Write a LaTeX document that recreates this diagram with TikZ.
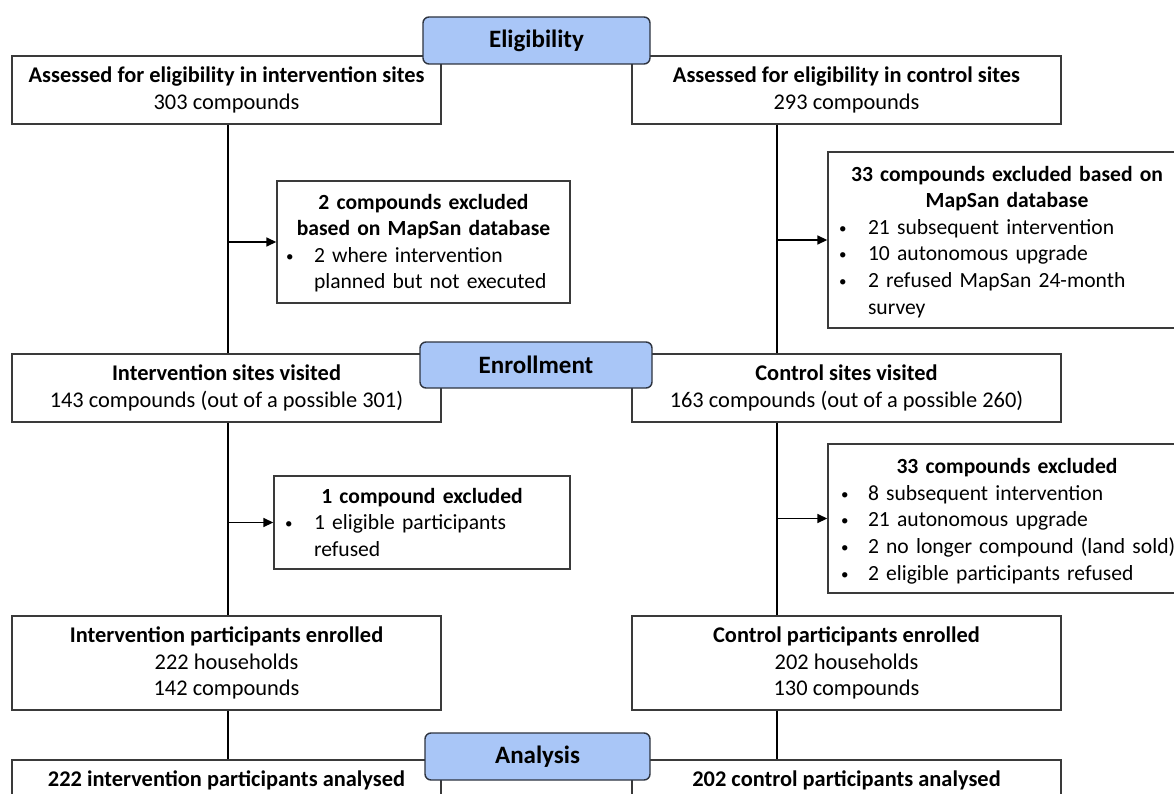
\documentclass[tikz,border=0pt]{standalone}
\usepackage{fontspec}
\setmainfont{Carlito}
\usetikzlibrary{arrows.meta}
\definecolor{phasefill}{HTML}{A9C6F7}
\definecolor{phasedraw}{HTML}{2E3440}
\definecolor{boxdraw}{HTML}{3A3A3A}
\newlength{\bi}\newlength{\bo}
\newcommand{\tline}[1]{\par\noindent\makebox[\hsize]{\bfseries #1}}
\newcommand{\bline}[1]{\par\noindent\makebox[\bi][l]{\hspace{\bo}\raisebox{1pt}{\fontsize{15}{15}\selectfont\textbullet}}\mbox{#1}}
\newcommand{\contline}[1]{\par\noindent\hspace*{\bi}\mbox{#1}}
\newcommand{\padend}[1]{\par\kern#1\hrule height0pt depth0pt width0pt}
\begin{document}
\begin{tikzpicture}[x=1pt,y=-1pt,
  every node/.style={font=\fontsize{21.6}{26.6}\selectfont},
  mainbox/.style={draw=boxdraw,line width=1.4pt,fill=white,inner sep=0pt,align=center,minimum width=429pt,font=\fontsize{22.4}{26.6}\selectfont},
  exbox/.style={draw=boxdraw,line width=1.4pt,fill=white,inner xsep=8pt,inner ysep=0pt},
  phase/.style={draw=phasedraw,line width=1.4pt,fill=phasefill,rounded corners=6pt,inner sep=0pt,font=\fontsize{25}{28}\selectfont\bfseries},
  conn/.style={line width=1.6pt,draw=black},
  arr/.style={conn,-{Triangle[length=10pt,width=9pt]}}]
\useasboundingbox (0,0) rectangle (1174,794);
\clip (0,0) rectangle (1174,794);
\fill[white] (0,0) rectangle (1174,794);
\coordinate (lx) at (228,0);
\coordinate (rx) at (777,0);
% main boxes
\node[mainbox,minimum height=68pt] (A1) at (226.5,90) {\textbf{Assessed for eligibility in intervention sites}\\303 compounds};
\node[mainbox,minimum height=68pt] (B1) at (846.5,90) {\textbf{Assessed for eligibility in control sites}\\293 compounds};
\node[mainbox,minimum height=68pt] (A2) at (226.5,388) {\textbf{Intervention sites visited}\\143 compounds (out of a possible 301)};
\node[mainbox,minimum height=68pt] (B2) at (846.5,388) {\textbf{Control sites visited}\\163 compounds (out of a possible 260)};
\node[mainbox,minimum height=94pt] (A3) at (226.5,663) {\textbf{Intervention participants enrolled}\\222 households\\142 compounds};
\node[mainbox,minimum height=94pt] (B3) at (846.5,663) {\textbf{Control participants enrolled}\\202 households\\130 compounds};
\node[mainbox,minimum height=40pt] (A4) at (226.5,780) {\textbf{222 intervention participants analysed}};
\node[mainbox,minimum height=40pt] (B4) at (846.5,780) {\textbf{202 control participants analysed}};
% exclusion boxes
\node[exbox,text width=277pt,minimum height=122pt] (E1L) at (423.5,242) {%
  \setlength{\bi}{29pt}\setlength{\bo}{1pt}%
  \tline{2 compounds excluded}%
  \tline{based on MapSan database}%
  \bline{2 where intervention}%
  \contline{planned but not executed}\padend{9pt}};
\node[exbox,text width=342pt,minimum height=176pt] (E1R) at (1007,240) {%
  \setlength{\bi}{32pt}\setlength{\bo}{3pt}%
  \tline{33 compounds excluded based on}%
  \tline{MapSan database}%
  \bline{21 subsequent intervention}%
  \bline{10 autonomous upgrade}%
  \bline{2 refused MapSan 24-month}%
  \contline{survey}\padend{8pt}};
\node[exbox,text width=280pt,minimum height=93pt] (E2L) at (422,522.5) {%
  \setlength{\bi}{32pt}\setlength{\bo}{3pt}%
  \tline{1 compound excluded}%
  \bline{1 eligible participants}%
  \contline{refused}\padend{12pt}};
\node[exbox,text width=342pt,minimum height=149pt] (E2R) at (1007,518.5) {%
  \setlength{\bi}{32pt}\setlength{\bo}{5pt}%
  \tline{33 compounds excluded}%
  \bline{8 subsequent intervention}%
  \bline{21 autonomous upgrade}%
  \bline{2 no longer compound (land sold)}%
  \bline{2 eligible participants refused}\padend{6pt}};
% connectors
\draw[conn] (A1.south -| lx) -- (A2.north -| lx);
\draw[conn] (A2.south -| lx) -- (A3.north -| lx);
\draw[conn] (A3.south -| lx) -- (A4.north -| lx);
\draw[conn] (B1.south -| rx) -- (B2.north -| rx);
\draw[conn] (B2.south -| rx) -- (B3.north -| rx);
\draw[conn] (B3.south -| rx) -- (B4.north -| rx);
\draw[arr] (lx |- E1L.west) -- (E1L.west);
\draw[arr] (rx |- E1R.west) -- (E1R.west);
\draw[arr] (lx |- E2L.west) -- (E2L.west);
\draw[arr] (rx |- E2R.west) -- (E2R.west);
% phase labels
\node[phase,minimum width=227pt,minimum height=47pt] (P1) at (536.5,40.5) {Eligibility};
\node[phase,minimum width=232pt,minimum height=46pt] (P2) at (536,365) {Enrollment};
\node[phase,minimum width=225pt,minimum height=47pt] (P3) at (537.5,756.5) {Analysis};
\end{tikzpicture}
\end{document}
